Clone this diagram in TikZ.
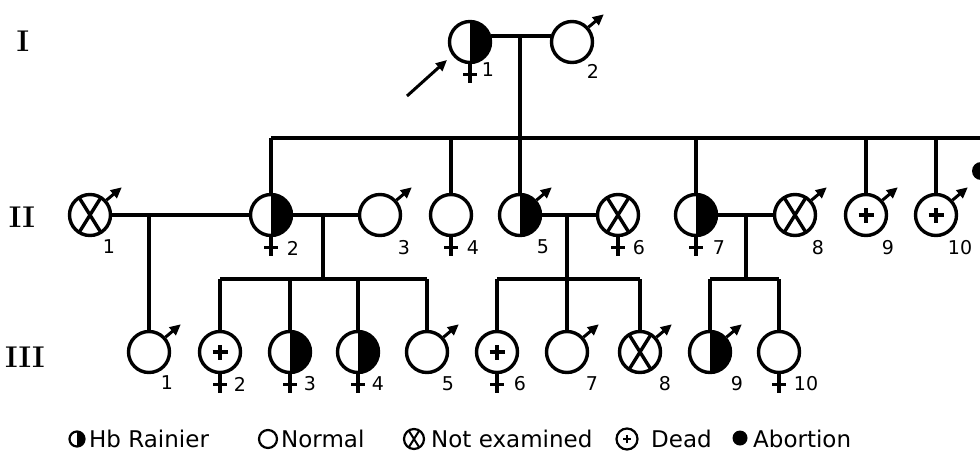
\documentclass[tikz,border=0pt]{standalone}
\usepackage{fontspec}
\newfontfamily\labfont{DejaVu Sans}
\usetikzlibrary{arrows.meta}
\newcommand\malearrow[1]{\draw[line width=3pt,-{Triangle[length=11pt,width=10pt]}] (#1.42) -- ++(40:20);}
\newcommand\femcross[1]{\draw[line width=3.2pt] (#1.south) -- ++(0,-19); \draw[line width=3.2pt] (#1.south) ++(-7,-10) -- ++(14,0);}
\newcommand\numlab[4]{\path (#1) ++(#3,#4) node[numl] (#1-n) {#2};}
\begin{document}
\begin{tikzpicture}[x=1pt,y=1pt,
  lw/.style={line width=3.4pt},
  person/.style={circle, draw, lw, minimum size=41pt, inner sep=0pt, fill=white},
  aff/.style={person, path picture={\fill[black] (path picture bounding box.north) rectangle (path picture bounding box.south east);}},
  notex/.style={person, path picture={\draw[lw] (path picture bounding box.center) +(122:30) -- +(-58:30) (path picture bounding box.center) +(58:30) -- +(238:30);}},
  dead/.style={person, path picture={\draw[line width=3.2pt] (path picture bounding box.center) +(-7.5,0) -- +(7.5,0) (path picture bounding box.center) +(0,-7.5) -- +(0,7.5);}},
  abort/.style={circle, fill=black, minimum size=18pt, inner sep=0pt},
  numl/.style={font=\labfont\fontsize{19}{19}\selectfont, inner sep=0pt},
  gen/.style={font=\bfseries\fontsize{30}{30}\selectfont, inner sep=0pt},
  leg/.style={circle, draw, line width=2.2pt, inner sep=0pt},
  legtext/.style={font=\labfont\fontsize{23}{23}\selectfont, inner sep=0pt, anchor=base west}
]
\useasboundingbox (0,0) rectangle (980,-453);
\clip (0,0) rectangle (980,-453);

% generation labels
\node[gen] (gI) at (23,-41) {I};
\node[gen] (gII) at (22,-217) {II};
\node[gen] (gIII) at (25,-357) {III};

% generation I
\node[aff] (I1) at (470,-42) {};
\node[person] (I2) at (572,-42) {};
\femcross{I1} \malearrow{I2}
\numlab{I1}{1}{18}{-28}
\numlab{I2}{2}{21}{-29}
\coordinate (arT) at (407,-96);
\coordinate (arH) at (447,-60);
\draw[line width=3pt,-{Triangle[length=11pt,width=10pt]}] (arT) -- (arH);

% generation II
\node[notex] (II1) at (90,-215) {};
\node[aff] (II2) at (271,-215) {};
\node[person] (II3) at (380,-215) {};
\node[person] (II4) at (451,-215) {};
\node[aff] (II5) at (520,-215) {};
\node[notex] (II6) at (618,-215) {};
\node[aff] (II7) at (696,-215) {};
\node[notex] (II8) at (795,-215) {};
\node[dead] (II9) at (866,-215) {};
\node[dead] (II10) at (936,-215) {};
\node[abort] (II11) at (981,-171) {};
\malearrow{II1} \malearrow{II3} \malearrow{II5} \malearrow{II8} \malearrow{II9} \malearrow{II10}
\femcross{II2} \femcross{II4} \femcross{II6} \femcross{II7}
\numlab{II1}{1}{19}{-32}
\numlab{II2}{2}{22}{-33}
\numlab{II3}{3}{24}{-33}
\numlab{II4}{4}{22}{-33}
\numlab{II5}{5}{23}{-32}
\numlab{II6}{6}{21}{-33}
\numlab{II7}{7}{23}{-33}
\numlab{II8}{8}{23}{-33}
\numlab{II9}{9}{22}{-33}
\numlab{II10}{10}{24}{-33}

% generation III
\node[person] (III1) at (149,-352) {};
\node[dead] (III2) at (220,-352) {};
\node[aff] (III3) at (290,-352) {};
\node[aff] (III4) at (358,-352) {};
\node[person] (III5) at (427,-352) {};
\node[dead] (III6) at (497,-352) {};
\node[person] (III7) at (567,-352) {};
\node[notex] (III8) at (640,-352) {};
\node[aff] (III9) at (710,-352) {};
\node[person] (III10) at (779,-352) {};
\malearrow{III1} \malearrow{III5} \malearrow{III7} \malearrow{III8} \malearrow{III9}
\femcross{III2} \femcross{III3} \femcross{III4} \femcross{III6} \femcross{III10}
\numlab{III1}{1}{18}{-31}
\numlab{III2}{2}{20}{-32}
\numlab{III3}{3}{20}{-32}
\numlab{III4}{4}{20}{-32}
\numlab{III5}{5}{21}{-32}
\numlab{III6}{6}{23}{-32}
\numlab{III7}{7}{25}{-32}
\numlab{III8}{8}{25}{-32}
\numlab{III9}{9}{27}{-32}
\numlab{III10}{10}{27}{-32}

% connectors
\draw[lw] (I1.16) -- (I2.164);
\coordinate (m0) at (520,-36);
\coordinate (s2) at (520,-138);
\coordinate (s2R) at (995,-138);
\draw[lw] (m0) -- (s2);
\draw[lw] (II2.north |- s2) -- (s2R);
\foreach \n in {II2,II4,II5,II7,II9,II10} \draw[lw] (\n.north |- s2) -- (\n.north);

\draw[lw] (II1) -- (II2);
\coordinate (m21) at (149,-215);
\draw[lw] (m21) -- (III1.north);

\draw[lw] (II2) -- (II3);
\coordinate (m23) at (323,-215);
\coordinate (s23) at (323,-279);
\draw[lw] (m23) -- (s23);
\draw[lw] (III2.north |- s23) -- (III5.north |- s23);
\foreach \n in {III2,III3,III4,III5} \draw[lw] (\n.north |- s23) -- (\n.north);

\draw[lw] (II5) -- (II6);
\coordinate (m56) at (567,-215);
\coordinate (s56) at (567,-279);
\draw[lw] (m56) -- (s56);
\draw[lw] (III6.north |- s56) -- (III8.north |- s56);
\foreach \n in {III6,III7,III8} \draw[lw] (\n.north |- s56) -- (\n.north);

\draw[lw] (II7) -- (II8);
\coordinate (m78) at (746,-215);
\coordinate (s78) at (746,-279);
\draw[lw] (m78) -- (s78);
\draw[lw] (III9.north |- s78) -- (III10.north |- s78);
\foreach \n in {III9,III10} \draw[lw] (\n.north |- s78) -- (\n.north);

% legend
\node[leg, minimum size=15pt, path picture={\fill[black] (path picture bounding box.north) rectangle (path picture bounding box.south east);}] (L1) at (77,-439) {};
\node[legtext] (L1t) at (89,-447) {Hb Rainier};
\node[leg, minimum size=18pt] (L2) at (268,-439) {};
\node[legtext] (L2t) at (281,-447) {Normal};
\node[leg, minimum size=20pt, path picture={\draw[line width=2pt] (path picture bounding box.center) +(122:15) -- +(-58:15) (path picture bounding box.center) +(58:15) -- +(238:15);}] (L3) at (414,-439) {};
\node[legtext] (L3t) at (431,-447) {Not examined};
\node[leg, minimum size=21pt, path picture={\draw[line width=2pt] (path picture bounding box.center) +(-4,0) -- +(4,0) (path picture bounding box.center) +(0,-4) -- +(0,4);}] (L4) at (627,-439) {};
\node[legtext] (L4t) at (651,-447) {Dead};
\node[abort, minimum size=15pt] (L5) at (740,-438) {};
\node[legtext] (L5t) at (753,-447) {Abortion};
\end{tikzpicture}
\end{document}
